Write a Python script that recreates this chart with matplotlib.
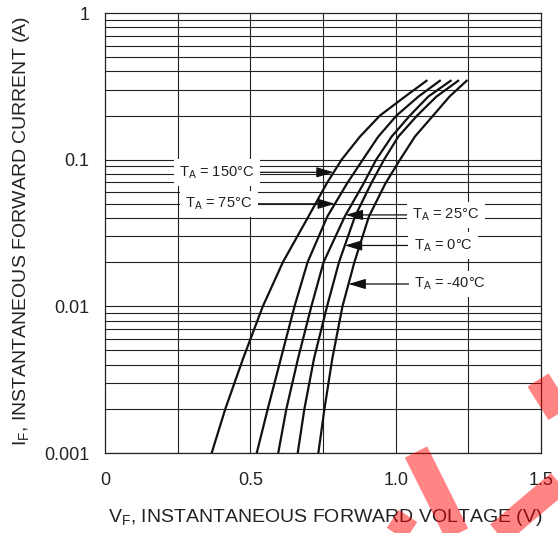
import numpy as np
import matplotlib
matplotlib.use('Agg')
import matplotlib.pyplot as plt
from matplotlib.lines import Line2D

plt.rcParams['font.family'] = ['Liberation Sans', 'DejaVu Sans']
plt.rcParams['mathtext.default'] = 'regular'

# forward current levels (A)
current = [0.001, 0.002, 0.0044, 0.01, 0.02, 0.041, 0.069, 0.1, 0.1435, 0.2, 0.269, 0.345]

# forward voltage (V) of each temperature curve at those current levels
vf_150 = [0.367, 0.414, 0.475, 0.543, 0.612, 0.700, 0.763, 0.814, 0.877, 0.946, 1.032, 1.106]
vf_75 = [0.522, 0.560, 0.605, 0.652, 0.697, 0.765, 0.833, 0.887, 0.940, 1.003, 1.078, 1.152]
vf_25 = [0.596, 0.624, 0.664, 0.710, 0.752, 0.825, 0.890, 0.933, 0.986, 1.049, 1.112, 1.189]
vf_0 = [0.663, 0.686, 0.719, 0.764, 0.805, 0.860, 0.916, 0.960, 1.009, 1.074, 1.140, 1.215]
vf_m40 = [0.734, 0.755, 0.782, 0.817, 0.858, 0.908, 0.965, 1.015, 1.066, 1.129, 1.185, 1.244]

labels = ['150', '75', '25', '0', '-40']
# current at which each label's arrow hits its curve, and label x position (V)
arrow_current = [0.082, 0.05, 0.042, 0.026, 0.0142]
label_x = [0.385, 0.392, 1.173, 1.163, 1.187]

ytick_vals = [0.001, 0.01, 0.1, 1]
ytick_text = ['0.001', '0.01', '0.1', '1']
xtick_vals = [0, 0.5, 1.0, 1.5]
xtick_text = ['0', '0.5', '1.0', '1.5']

W, H = 558, 533
fig = plt.figure(figsize=(W / 100, H / 100), dpi=100)
ax = fig.add_axes([105 / W, 1 - 453 / H, 436 / W, 440 / H])

ax.set_yscale('log')
ax.set_xlim(0, 1.5)
ax.set_ylim(0.001, 1)

gcol = '#222222'
# grid
for v in np.arange(0.25, 1.5, 0.25):
    ax.axvline(v, color=gcol, lw=0.8, zorder=1)
for dec in [0.001, 0.01, 0.1]:
    for m in range(1, 10):
        ax.axhline(dec * m, color=gcol, lw=0.8, zorder=1)

for sp in ax.spines.values():
    sp.set_color(gcol)
    sp.set_linewidth(0.9)

ax.yaxis.set_major_locator(matplotlib.ticker.FixedLocator(ytick_vals))
ax.yaxis.set_minor_locator(matplotlib.ticker.NullLocator())
ax.set_yticklabels(ytick_text)
ax.set_xticks(xtick_vals)
ax.set_xticklabels(xtick_text)
ax.tick_params(axis='both', length=0, labelsize=13, colors='#222222')
ax.tick_params(axis='y', pad=11)
ax.tick_params(axis='x', pad=14)

curves = [vf_150, vf_75, vf_25, vf_0, vf_m40]
for vf in curves:
    ax.plot(vf, current, color='#111111', lw=1.6, zorder=3, solid_joinstyle='round')

logc = np.log10(current)
for i, vf in enumerate(curves):
    ia = arrow_current[i]
    tip_x = np.interp(np.log10(ia), logc, vf)
    ax.annotate(r'$T_A$ = ' + labels[i] + '°C', xy=(tip_x, ia), xytext=(label_x[i], ia),
                textcoords='data', ha='center', va='center', fontsize=10.5, color='#222222',
                bbox=dict(boxstyle='square,pad=0.35', fc='white', ec='none'),
                arrowprops=dict(arrowstyle='-|>,head_length=1.0,head_width=0.3',
                                color='#111111', lw=0.9, shrinkA=0, shrinkB=0),
                zorder=4)

fig.text(325 / W, 1 - 517 / H, r'$V_F$, INSTANTANEOUS FORWARD VOLTAGE (V)',
         ha='center', va='center', fontsize=14, color='#222222')
fig.text(22 / W, 1 - 231 / H, r'$I_F$, INSTANTANEOUS FORWARD CURRENT (A)',
         ha='center', va='center', rotation=90, fontsize=14, color='#222222')

# red watermark strokes over the bottom right corner
marks = [((416, 452), (460, 540), 18), ((497, 535), (562, 480), 18),
         ((538, 380), (565, 423), 18), ((408, 516), (392, 540), 16)]
for (x0, y0), (x1, y1), w in marks:
    fig.add_artist(Line2D([x0 / W, x1 / W], [1 - y0 / H, 1 - y1 / H], transform=fig.transFigure,
                          color='red', alpha=0.48, lw=w, solid_capstyle='butt', zorder=10))

fig.savefig('out.png', dpi=100)
